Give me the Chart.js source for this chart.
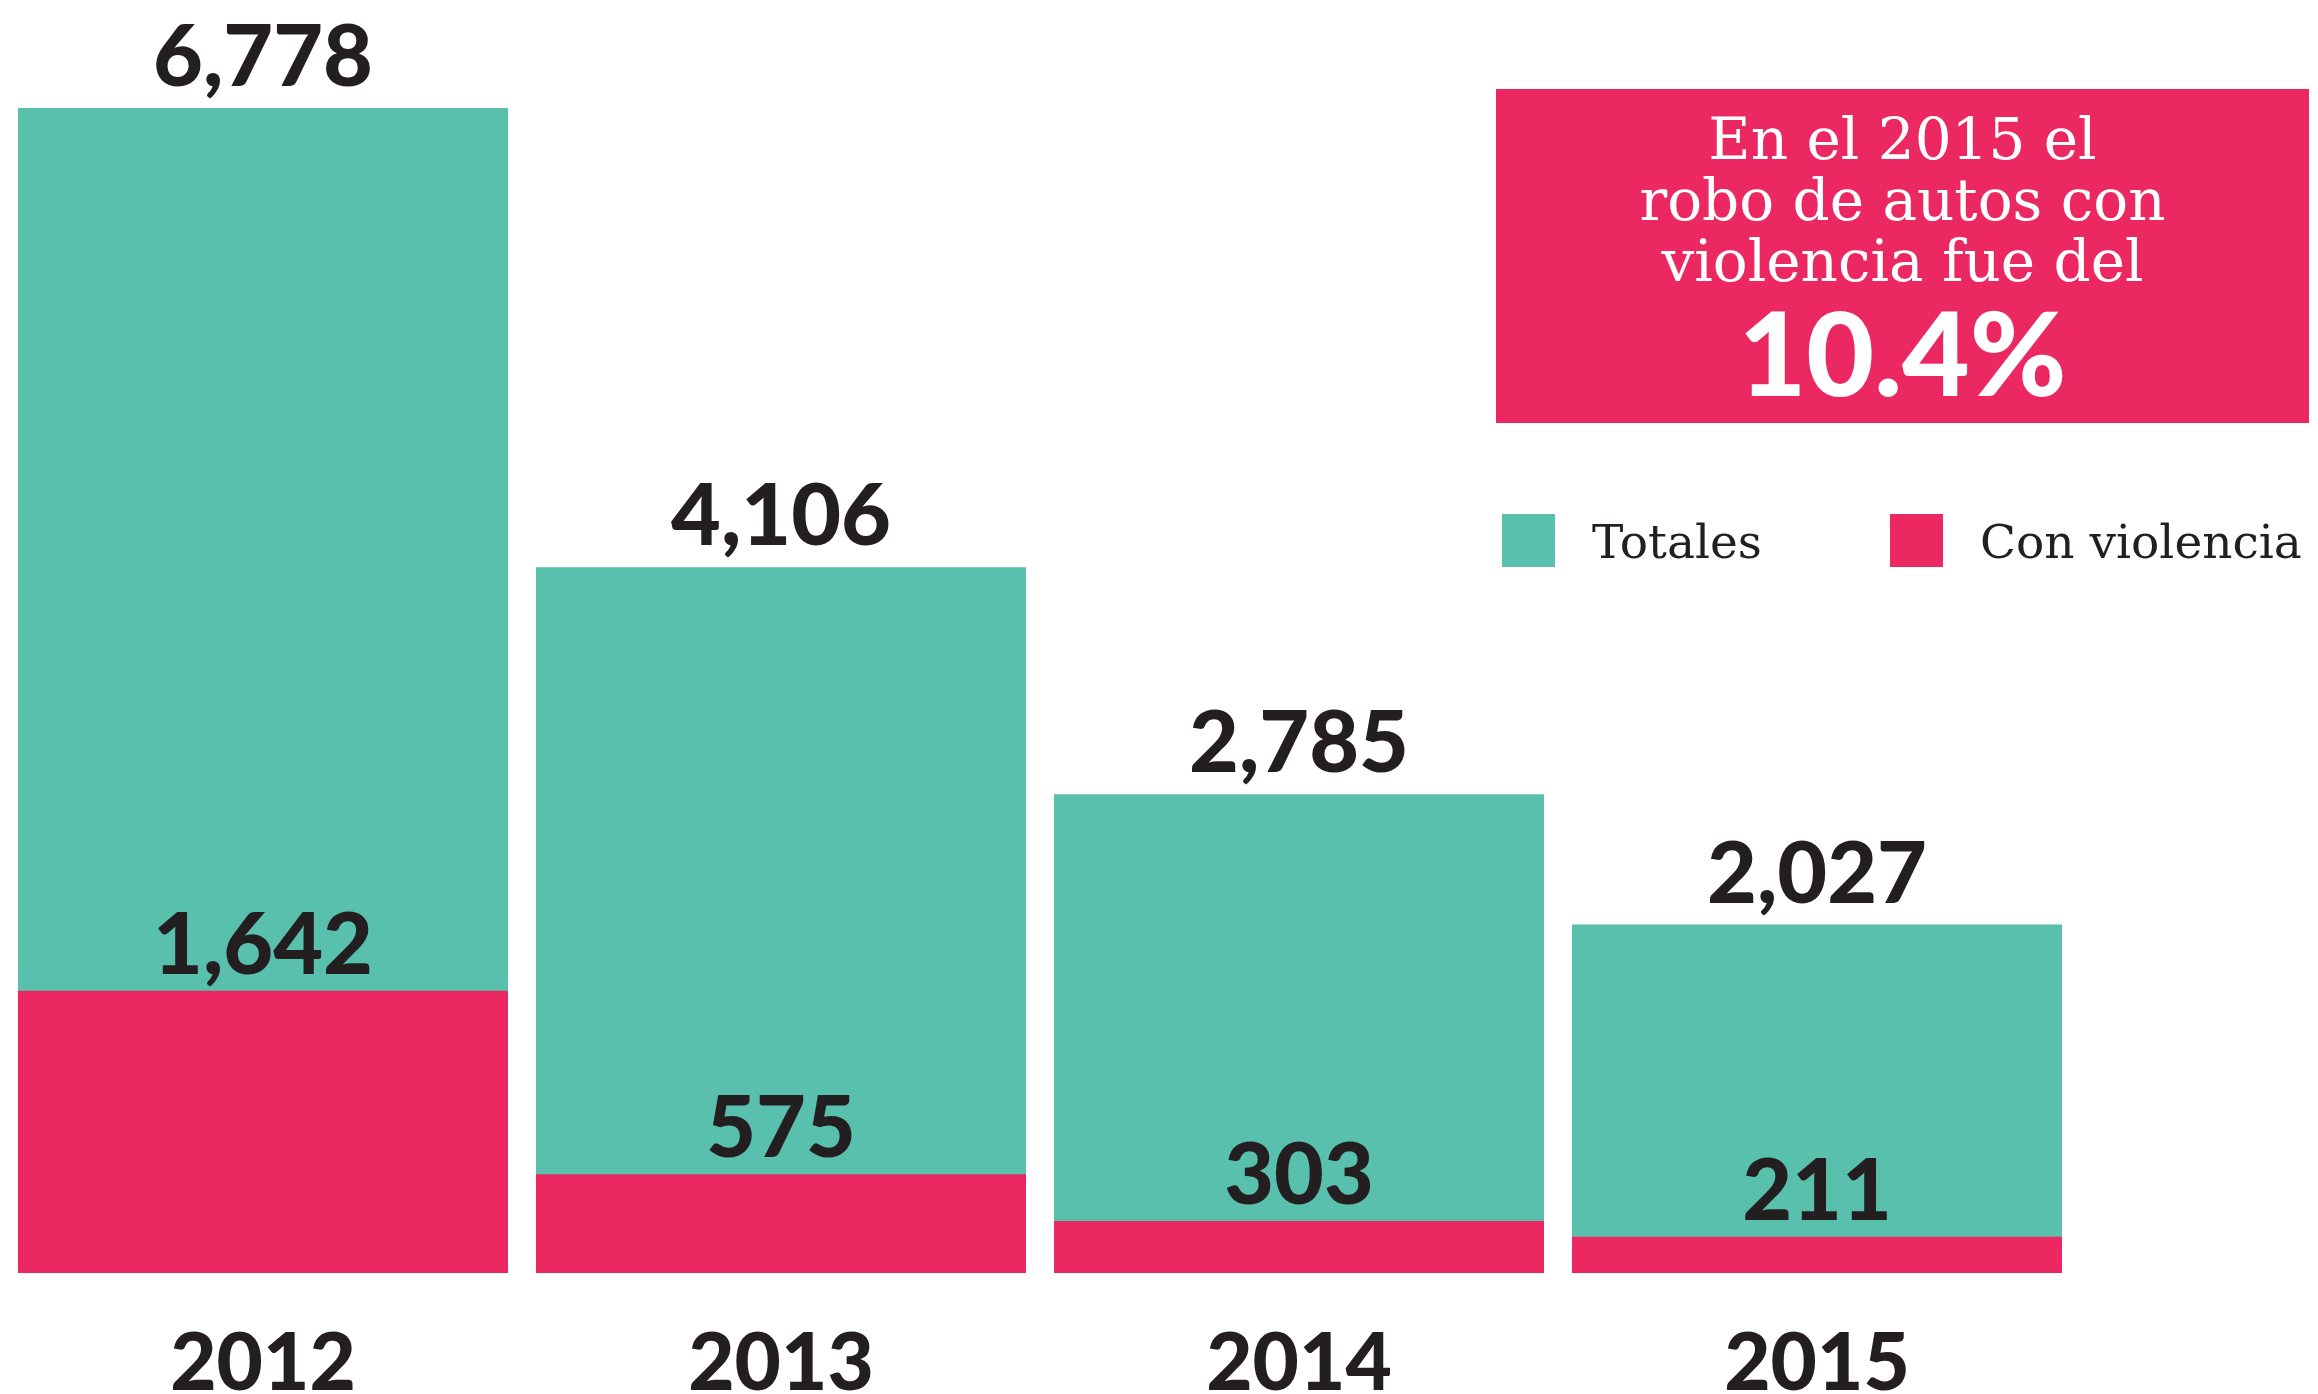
<!DOCTYPE html>
<html>
<head>
<meta charset="utf-8">
<script src="https://cdn.jsdelivr.net/npm/chart.js@4/dist/chart.umd.min.js"></script>
<style>
  body { margin: 0; background: #fff; }
  #wrap { position: relative; width: 2318px; height: 1394px; }
  #note { position: absolute; left: 1496px; top: 89px; width: 813px; height: 334px; background: #EB2862; color: #fff; text-align: center; }
  #note .txt { position: absolute; left: 0; right: 0; top: 20px; font: 58px "DejaVu Serif"; line-height: 61px; }
  #note .pct { position: absolute; left: 0; right: 0; top: 204px; font: 900 117px Lato, "Liberation Sans"; line-height: 117px; }
  .leg { position: absolute; top: 514px; height: 53px; font: 47px "DejaVu Serif"; color: #231F20; line-height: 56px; white-space: nowrap; }
  .leg span { display: inline-block; width: 53px; height: 53px; vertical-align: top; margin-right: 37px; }
</style>
</head>
<body>
<div id="wrap">
  <canvas id="chart"></canvas>
  <div id="note">
    <div class="txt">En el 2015 el<br>robo de autos con<br>violencia fue del</div>
    <div class="pct">10.4%</div>
  </div>
  <div id="legend"></div>
</div>
<script>
const years = ["2012", "2013", "2014", "2015"];
const totales = [6778, 4106, 2785, 2027];
const conViolencia = [1642, 575, 303, 211];
const seriesNames = ["Totales", "Con violencia"];
const colors = ["#58C0AC", "#EB2862"];
const legendX = [1502, 1890];

// numbers over the bars + year names under them
const valueLabels = {
  id: "valueLabels",
  afterDatasetsDraw(chart) {
    const ctx = chart.ctx;
    ctx.save();
    ctx.fillStyle = "#231F20";
    ctx.font = "900 86px Lato, 'Liberation Sans'";
    ctx.textAlign = "center";
    ctx.textBaseline = "alphabetic";
    chart.data.datasets.forEach((ds, i) => {
      const meta = chart.getDatasetMeta(i);
      const off = i === 0 ? 22 : 17;
      meta.data.forEach((bar, j) => {
        ctx.fillText(ds.data[j].toLocaleString("en-US"), bar.x, bar.y - off);
      });
    });
    const x = chart.scales.x;
    ctx.font = "900 80px Lato, 'Liberation Sans'";
    chart.data.labels.forEach((lab, j) => {
      ctx.fillText(lab, x.getPixelForValue(j), chart.chartArea.bottom + 117);
    });
    ctx.restore();
  }
};

const chart = new Chart(document.getElementById("chart"), {
  type: "bar",
  data: {
    labels: years,
    datasets: [
      { label: seriesNames[0], data: totales, backgroundColor: colors[0], order: 2,
        grouped: false, barPercentage: 0.946, categoryPercentage: 1 },
      { label: seriesNames[1], data: conViolencia, backgroundColor: colors[1], order: 1,
        grouped: false, barPercentage: 0.946, categoryPercentage: 1 }
    ]
  },
  options: {
    responsive: true,
    maintainAspectRatio: false,
    animation: false,
    layout: { padding: { top: 108, left: 4, right: 242, bottom: 121 } },
    plugins: { legend: { display: false }, tooltip: { enabled: false } },
    scales: {
      x: { display: false },
      y: { display: false, min: 0, max: 6778 }
    }
  },
  plugins: [valueLabels]
});

// html legend built from the datasets
document.getElementById("legend").innerHTML = chart.data.datasets.map((ds, i) =>
  '<div class="leg" style="left:' + legendX[i] + 'px"><span style="background:' + ds.backgroundColor + '"></span>' + ds.label + '</div>'
).join("");
</script>
</body>
</html>
